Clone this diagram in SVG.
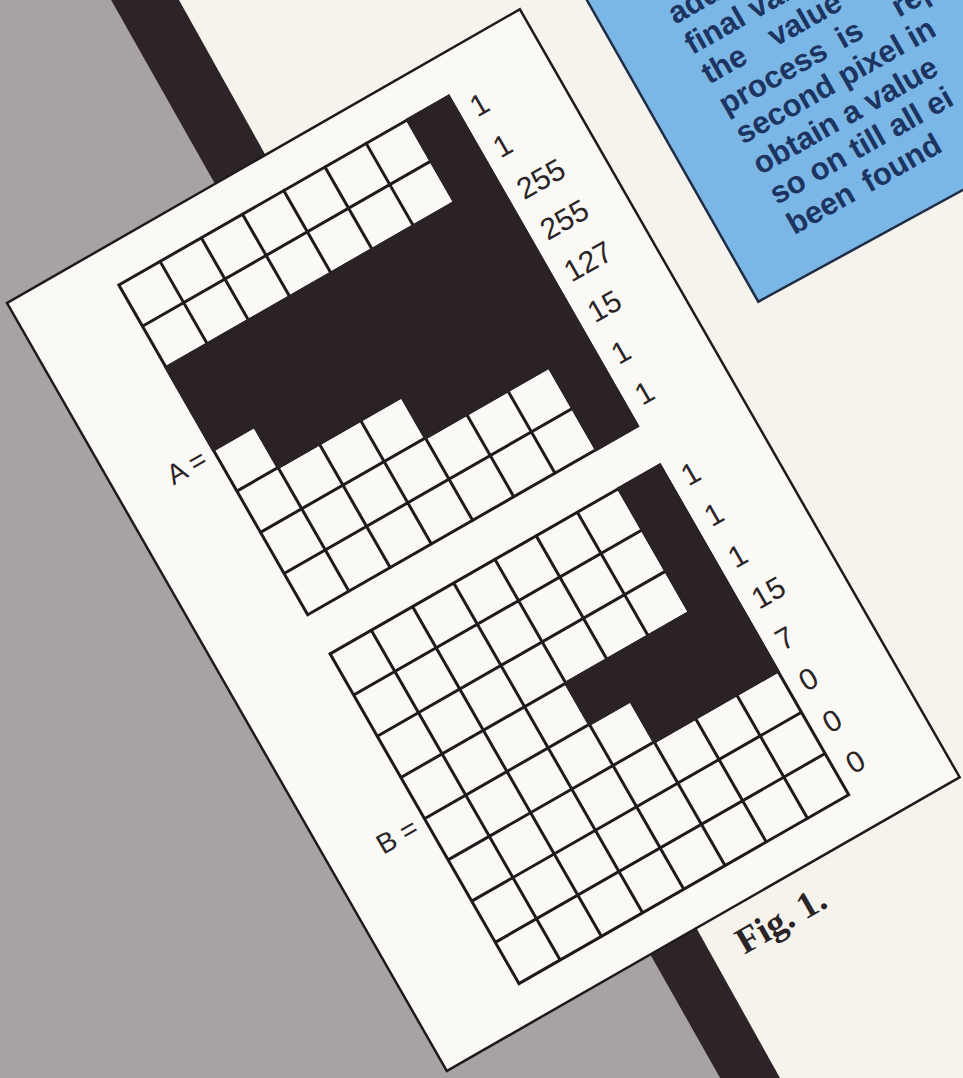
<svg xmlns="http://www.w3.org/2000/svg" width="963" height="1078" viewBox="0 0 963 1078">
<defs>
<style>
.bgc{fill:#f6f2ec}
.gray{fill:#a9a2a4}
.stripe{fill:#2c2428}
.card{fill:#fbf9f5;stroke:#1f1b1d;stroke-width:2.5}
.gl{fill:none;stroke:#1f1b1d;stroke-width:3;stroke-linecap:square}
.blk{fill:#2a2226;stroke:#2a2226;stroke-width:3;stroke-linejoin:miter}
.num{font-family:"Liberation Sans",Arial,sans-serif;font-size:30px;fill:#2a2426}
.lab{font-family:"Liberation Sans",Arial,sans-serif;font-size:28px;fill:#2a2426}
.fig{font-family:"Liberation Serif","Times New Roman",serif;font-size:37px;font-weight:bold;fill:#2a2426}
.box{fill:#7ab6e6;stroke:#1f2c44;stroke-width:2.5}
.bt{font-family:"Liberation Sans",Arial,sans-serif;font-size:31px;font-weight:bold;fill:#1d3461}
</style>
</defs>
<g id="background">
<rect class="bgc" x="0" y="0" width="963" height="1078"/>
<polygon class="gray" points="0,0 111,0 720,1078 0,1078"/>
<polygon class="stripe" points="111,0 179,0 780,1078 720,1078"/>
</g>
<g id="textbox">
<polygon class="box" points="584,-5 758.3,301.7 970,186 970,-5"/>
<g transform="translate(758.3,301.7) rotate(-29.5)">
<text class="bt" x="64" y="-40"><tspan>been</tspan><tspan x="150">found</tspan></text>
<text class="bt" x="64" y="-75">so on till all ei</text>
<text class="bt" x="64" y="-109">obtain a value</text>
<text class="bt" x="64" y="-144">second pixel in</text>
<text class="bt" x="64" y="-178"><tspan>process</tspan><tspan x="198">is</tspan><tspan x="262">rep</tspan></text>
<text class="bt" x="64" y="-213"><tspan>the</tspan><tspan x="140">value</tspan></text>
<text class="bt" x="64" y="-247">final value</text>
<text class="bt" x="64" y="-282">add</text>
</g>
</g>
<g id="card" transform="translate(7,303) rotate(-29.8)">
<rect class="card" x="0" y="0" width="591" height="885"/>
<g id="gridA">
<path class="gl" d="M106 40H486M106 87.5H486M106 135H486M106 182.5H486M106 230H486M106 277.5H486M106 325H486M106 372.5H486M106 420H486M106 40V420M153.5 40V420M201 40V420M248.5 40V420M296 40V420M343.5 40V420M391 40V420M438.5 40V420M486 40V420"/>
<path class="blk" d="M438.5 40H486V420H438.5V325H296V277.5H153.5V230H106V135H438.5Z"/>
<text class="lab" x="95" y="241" text-anchor="end">A =</text>
<g class="num">
<text x="500" y="73">1</text>
<text x="500" y="120">1</text>
<text x="500" y="168">255</text>
<text x="500" y="215">255</text>
<text x="500" y="263">127</text>
<text x="500" y="310">15</text>
<text x="500" y="358">1</text>
<text x="500" y="405">1</text>
</g>
</g>
<g id="gridB">
<path class="gl" d="M106 465H486M106 512.5H486M106 560H486M106 607.5H486M106 655H486M106 702.5H486M106 750H486M106 797.5H486M106 845H486M106 465V845M153.5 465V845M201 465V845M248.5 465V845M296 465V845M343.5 465V845M391 465V845M438.5 465V845M486 465V845"/>
<path class="blk" d="M438.5 465H486V702.5H343.5V655H296V607.5H438.5Z"/>
<text class="lab" x="95" y="666" text-anchor="end">B =</text>
<g class="num">
<text x="500" y="498">1</text>
<text x="500" y="545">1</text>
<text x="500" y="593">1</text>
<text x="500" y="640">15</text>
<text x="500" y="688">7</text>
<text x="500" y="735">0</text>
<text x="500" y="783">0</text>
<text x="500" y="830">0</text>
</g>
</g>
<text id="caption" class="fig" x="365" y="932" text-anchor="middle">Fig. 1.</text>
</g>
</svg>
